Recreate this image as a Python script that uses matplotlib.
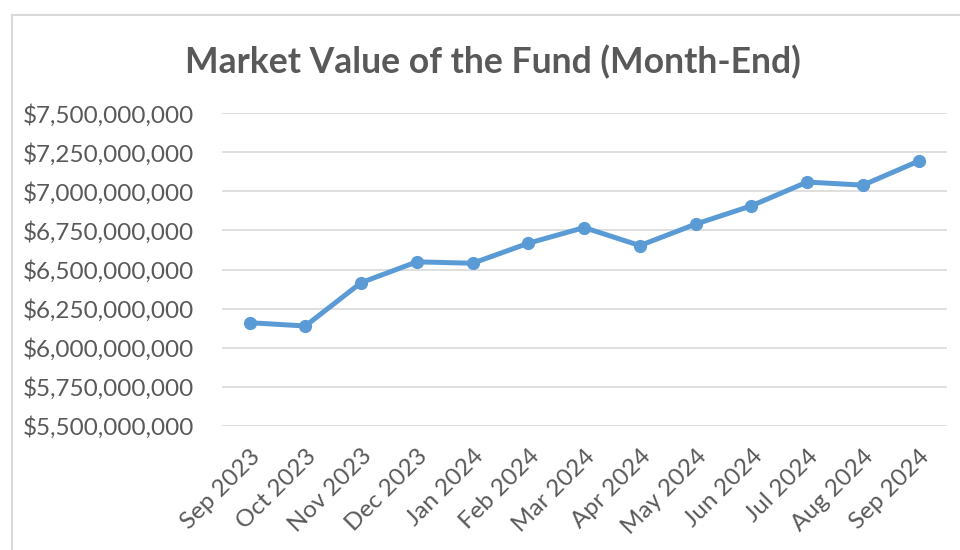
import matplotlib
matplotlib.use("Agg")
import matplotlib.pyplot as plt
from matplotlib.ticker import FuncFormatter, MultipleLocator
from matplotlib.lines import Line2D

# month-end market value
months = ["Sep 2023", "Oct 2023", "Nov 2023", "Dec 2023", "Jan 2024", "Feb 2024",
          "Mar 2024", "Apr 2024", "May 2024", "Jun 2024", "Jul 2024", "Aug 2024", "Sep 2024"]
market_value = [6.160e9, 6.139e9, 6.416e9, 6.549e9, 6.540e9, 6.668e9,
                6.768e9, 6.653e9, 6.790e9, 6.907e9, 7.059e9, 7.039e9, 7.193e9]

blue = "#5B9BD5"
grey_text = "#595959"
grid_col = "#D9D9D9"

plt.rcParams['font.family'] = ['Lato', 'DejaVu Sans']

fig = plt.figure(figsize=(9.6, 5.5), dpi=100)
ax = fig.add_axes([0.231, 0.2255, 0.755, 0.569])

x = range(len(months))
ax.plot(x, market_value, color=blue, linewidth=3.6, marker="o", markersize=8.5,
        solid_capstyle="round", zorder=3)

ax.set_xlim(-0.5, len(months) - 0.5)
ax.set_ylim(5.5e9, 7.5e9)
ax.yaxis.set_major_locator(MultipleLocator(2.5e8))
ax.yaxis.set_major_formatter(FuncFormatter(lambda v, p: "${:,.0f}".format(v)))
ax.grid(axis="y", color=grid_col, linewidth=1.2)
ax.set_axisbelow(True)

ax.set_xticks(list(x))
ax.set_xticklabels(months, rotation=45, ha="right", rotation_mode="anchor")
ax.tick_params(axis="both", length=0, labelcolor=grey_text)
ax.tick_params(axis="y", labelsize=17.5, pad=20)
ax.tick_params(axis="x", labelsize=17.5, pad=14)
for s in ax.spines.values():
    s.set_visible(False)

fig.text(0.513, 0.887, "Market Value of the Fund (Month-End)", ha="center", va="center",
         fontsize=25.6, fontweight="bold", color=grey_text)

# outer chart frame (only top and left edges are visible in the crop)
fig.add_artist(Line2D([12/960, 1], [1 - 15/550, 1 - 15/550], color=grid_col, linewidth=1.5))
fig.add_artist(Line2D([12/960, 12/960], [0, 1 - 15/550], color=grid_col, linewidth=1.5))

fig.savefig("out.png", dpi=100, facecolor="white")
